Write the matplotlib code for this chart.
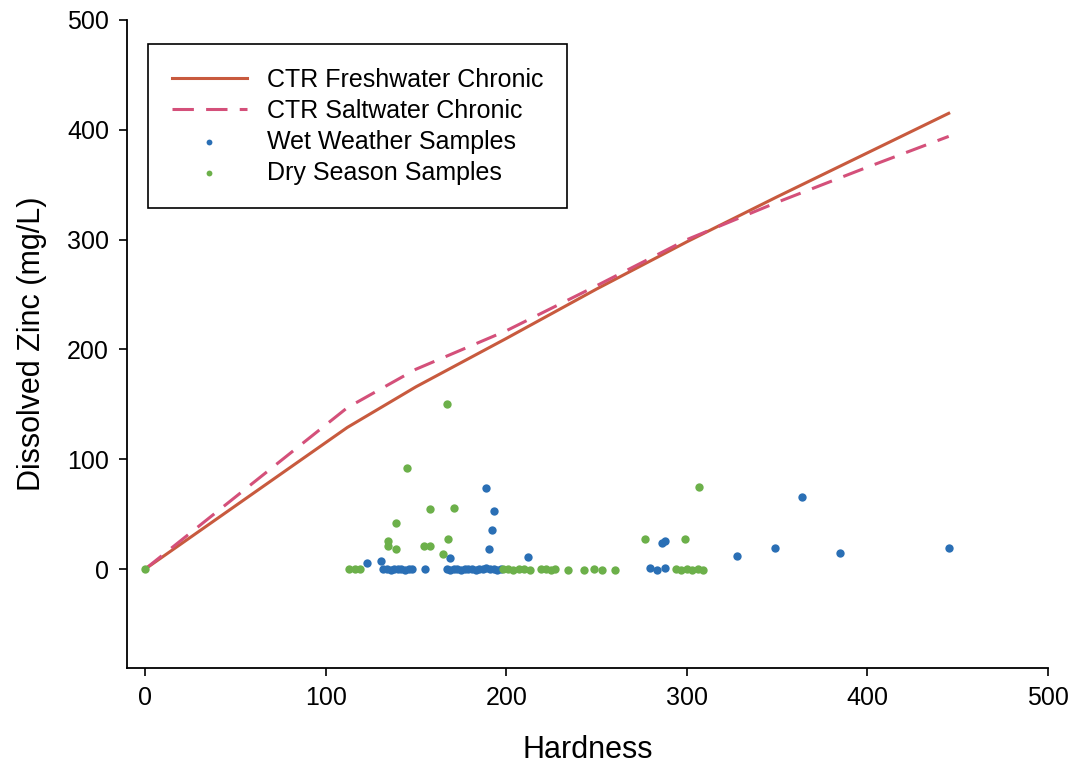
import numpy as np
import matplotlib.pyplot as plt

plt.rcParams['font.family'] = ['Liberation Sans', 'DejaVu Sans']

# criteria curves (hardness vs dissolved zinc)
crit_hardness = [0, 112, 150, 200, 250, 300, 350, 400, 445]
fresh_chronic = [0, 129, 166, 210, 255, 298, 339, 379, 415]
salt_chronic = [0, 147, 182, 217, 258, 300, 334, 366, 394]

# wet weather samples
wet_x = [123, 130.5, 132, 134, 136, 138, 140, 142, 144, 146, 148, 155,
         167, 169, 171, 173, 175, 177, 179, 181, 183, 185, 187, 189, 191,
         193, 195, 197, 169, 190.5, 192, 193, 189, 212, 286, 288,
         279.5, 283.5, 288, 328, 349, 364, 385, 445]
wet_y = [6, 7, 0, 0, -1, 0, 0, 0, -1, 0, 0, 0,
         0, -1, 0, 0, -1, 0, 0, 0, -1, 0, 0, 1, 0,
         0, -1, 0, 10, 18, 36, 53, 74, 11, 24, 26,
         1, -1, 1, 12, 19, 66, 15, 19]

# dry season samples
dry_x = [0, 113, 116, 119, 134.5, 134.5, 139, 139, 145, 154.5, 158, 158,
         165, 167, 168, 171, 198, 201, 204, 207, 210, 213, 219, 222, 225,
         227, 234, 243, 248.5, 253, 260.5, 277, 299, 307, 294, 297, 300,
         303, 306, 309]
dry_y = [0, 0, 0, 0, 26, 21, 18, 42, 92, 21, 21, 54.5,
         14, 150, 27, 56, 0, 0, -1, 0, 0, -1, 0, 0, -1,
         0, -1, -1, 0, -1, -1, 27, 27, 75, 0, -1, 0,
         -1, 0, -1]

fig = plt.figure(figsize=(10.76, 7.80), dpi=100)
ax = fig.add_axes([0.118, 0.1436, 0.856, 0.8308])

ax.plot(crit_hardness, fresh_chronic, '-', color='#c85a3e', lw=2.2,
        label='CTR Freshwater Chronic', zorder=2)
ax.plot(crit_hardness, salt_chronic, '--', color='#d4507a', lw=2.2,
        dashes=(7, 4), label='CTR Saltwater Chronic', zorder=2)
ax.scatter(wet_x, wet_y, s=36, color='#2a6fb5', label='Wet Weather Samples',
           zorder=3, linewidths=0)
ax.scatter(dry_x, dry_y, s=36, color='#6cb04a', label='Dry Season Samples',
           zorder=3, linewidths=0)

ax.set_xlim(-10, 500)
ax.set_ylim(-90, 500)
ax.set_xticks([0, 100, 200, 300, 400, 500])
ax.set_yticks([0, 100, 200, 300, 400, 500])
ax.tick_params(labelsize=18, direction='out', length=6, width=1.2, pad=7)
for s in ['top', 'right']:
    ax.spines[s].set_visible(False)
for s in ['left', 'bottom']:
    ax.spines[s].set_linewidth(1.3)

ax.set_xlabel('Hardness', fontsize=22, labelpad=18)
ax.set_ylabel('Dissolved Zinc (mg/L)', fontsize=22, labelpad=14)

leg = ax.legend(loc='upper left', bbox_to_anchor=(0.0228, 0.963),
                borderaxespad=0, fontsize=18, handlelength=3.0,
                handletextpad=0.8, labelspacing=0.28, fancybox=False,
                framealpha=1, edgecolor='black', borderpad=0.95,
                markerscale=0.7)
leg.get_frame().set_linewidth(1.2)

fig.savefig('out.png', dpi=100)
